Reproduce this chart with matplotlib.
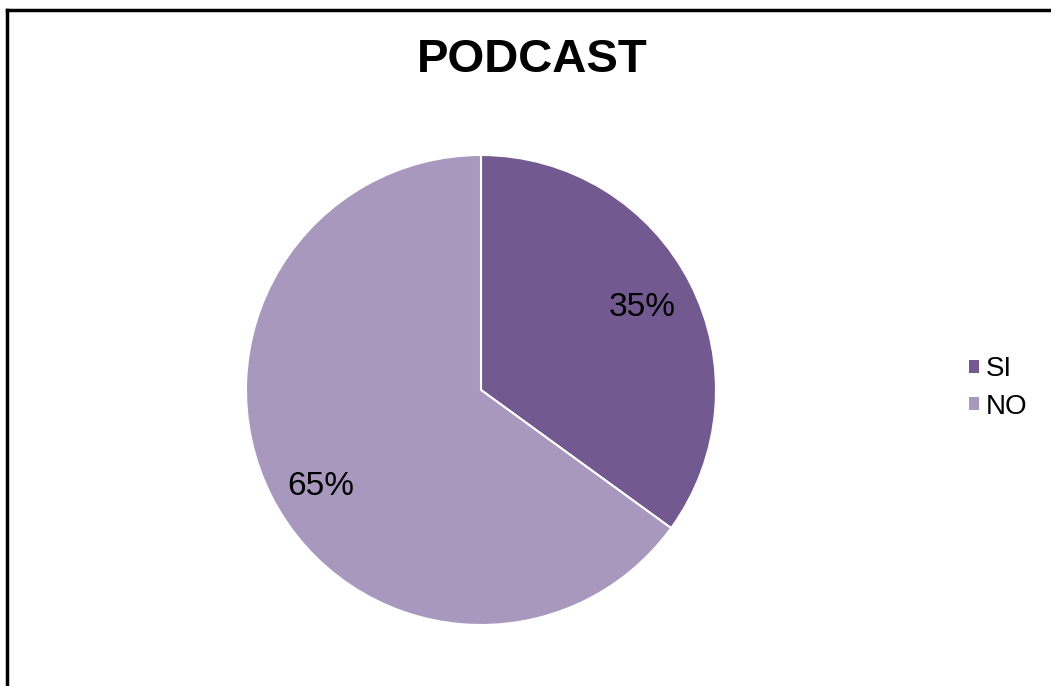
import matplotlib.pyplot as plt
from matplotlib.lines import Line2D
from matplotlib.patches import Patch

plt.rcParams['font.family'] = ['Liberation Sans', 'DejaVu Sans']

etiquetas = ['SI', 'NO']
valores = [35, 65]
colores = ['#725990', '#A898BE']

fig = plt.figure(figsize=(10.51, 6.86), dpi=100)

# borde del grafico (solo arriba e izquierda, como en la imagen)
fig.add_artist(Line2D([7/1051, 1050/1051], [1 - 10/686, 1 - 10/686], color='black', lw=2.5))
fig.add_artist(Line2D([7/1051, 7/1051], [0, 1 - 10/686], color='black', lw=2.5))

w = 470 / 1051
h = 470 / 686
ax = fig.add_axes([481/1051 - w/2, (686-390)/686 - h/2, w, h])
wedges, textos, autotextos = ax.pie(valores, colors=colores, startangle=90, counterclock=False,
                                    autopct='%1.0f%%', pctdistance=0.77,
                                    wedgeprops={'edgecolor': 'white', 'linewidth': 1.5},
                                    textprops={'fontsize': 24, 'color': 'black'})
# la etiqueta del 65% queda algo mas abajo en el original
autotextos[1].set_position((-0.68, -0.41))
ax.set_xlim(-1.0, 1.0)
ax.set_ylim(-1.0, 1.0)
ax.set_aspect('equal')
ax.axis('off')

fig.text(532/1051, 1 - 60/686, 'PODCAST', ha='center', va='center', fontsize=34, fontweight='bold')

manejadores = [Patch(facecolor=c, edgecolor='none') for c in colores]
fig.legend(manejadores, etiquetas, loc='center left', bbox_to_anchor=(969/1051, 1 - 388/686),
           frameon=False, fontsize=20, handlelength=0.35, handleheight=0.35,
           handletextpad=0.25, labelspacing=0.4, borderpad=0, borderaxespad=0)

fig.savefig('out.png', dpi=100)
